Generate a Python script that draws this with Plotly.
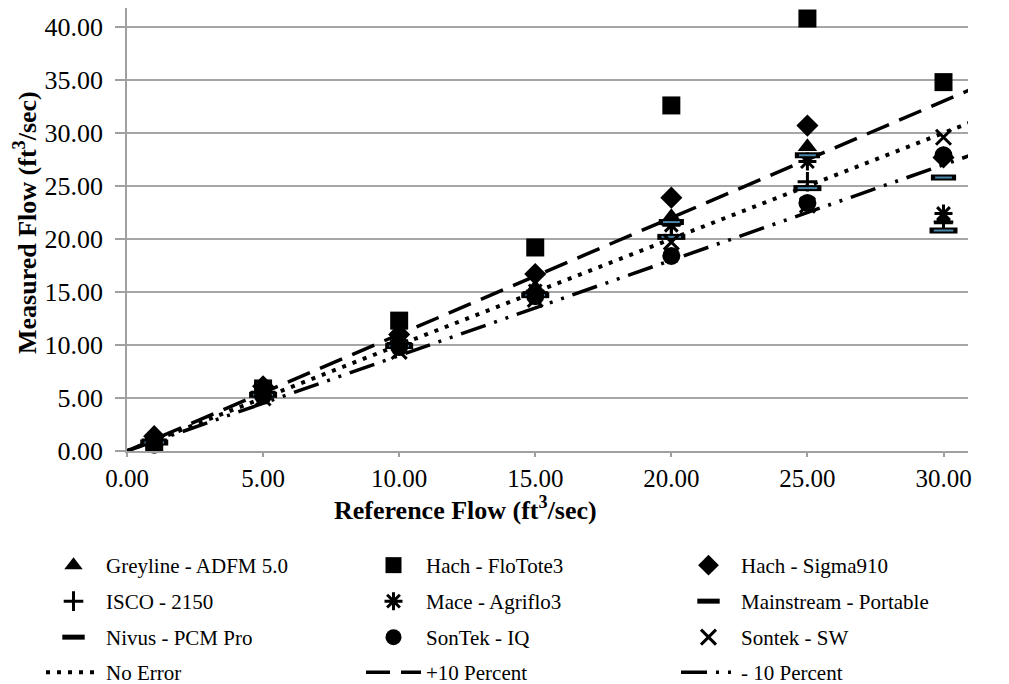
import plotly.graph_objects as go

# ---------------- data ----------------
ref_flow = [1, 5, 10, 15, 20, 25, 30]

greyline = [1.2, 5.7, 10.6, 15.4, 22.1, 28.7, 21.8]
flotote3 = [0.7, 5.9, 12.3, 19.2, 32.6, 40.8, 34.8]
sigma910 = [1.4, 6.1, 11.0, 16.7, 23.9, 30.7, 27.7]
isco2150 = [1.0, 5.5, 10.2, 15.0, 21.4, 25.4, 21.6]
agriflo3 = [1.1, 5.6, 10.4, 15.1, 21.3, 27.3, 22.4]
mainstream = [0.9, 5.4, 10.0, 14.8, 21.6, 27.9, 25.8]
nivus = [0.8, 5.3, 9.9, 14.7, 20.2, 24.8, 20.8]
sontek_iq = [0.6, 5.2, 9.8, 14.6, 18.4, 23.4, 27.9]
sontek_sw = [0.8, 5.0, 9.4, 14.3, 19.7, 23.2, 29.6]

line_x = [0, 31]
no_error_y = [0, 31]
plus10_y = [0, 34.1]
minus10_y = [0, 27.9]

x_ticks = [0, 5, 10, 15, 20, 25, 30]
y_ticks = [0, 5, 10, 15, 20, 25, 30, 35, 40]

x_title = "<b>Reference Flow (ft<sup>3</sup>/sec)</b>"
y_title = "<b>Measured Flow (ft<sup>3</sup>/sec)</b>"

FONT = "'Liberation Serif', 'Times New Roman', Times, serif"
W, H = 1009, 684
OFF = 8  # page body margin offset of the rendered figure

fig = go.Figure()

# reference lines
fig.add_trace(go.Scatter(x=line_x, y=no_error_y, mode="lines", name="No Error",
                         line=dict(color="black", width=4, dash="4px,7px"), legend="legend10"))
fig.add_trace(go.Scatter(x=line_x, y=plus10_y, mode="lines", name="+10 Percent",
                         line=dict(color="black", width=3.5, dash="24px,11px"), legend="legend11"))
fig.add_trace(go.Scatter(x=line_x, y=minus10_y, mode="lines", name="- 10 Percent",
                         line=dict(color="black", width=3.5, dash="26px,9px,3px,9px,3px,9px"),
                         legend="legend12"))

series = [
    ("Greyline - ADFM 5.0", greyline, dict(symbol="triangle-up", size=17, color="black"), "legend"),
    ("Hach - FloTote3", flotote3, dict(symbol="square", size=18, color="black"), "legend2"),
    ("Hach - Sigma910", sigma910, dict(symbol="diamond", size=17, color="black"), "legend3"),
    ("ISCO - 2150", isco2150, dict(symbol="cross-thin", size=14, color="black",
                                   line=dict(color="black", width=3)), "legend4"),
    ("Mace - Agriflo3", agriflo3, dict(symbol="asterisk", size=15, color="black",
                                       line=dict(color="black", width=3)), "legend5"),
    ("Mainstream - Portable", mainstream, dict(symbol="line-ew", size=18, color="black",
                                               line=dict(color="black", width=6)), "legend6"),
    ("Nivus - PCM Pro", nivus, dict(symbol="line-ew", size=20, color="black",
                                    line=dict(color="black", width=6)), "legend7"),
    ("SonTek - IQ", sontek_iq, dict(symbol="circle", size=18, color="black"), "legend8"),
    ("Sontek - SW", sontek_sw, dict(symbol="x-thin", size=15, color="black",
                                    line=dict(color="black", width=3)), "legend9"),
]

for name, ys, mk, lg in series:
    fig.add_trace(go.Scatter(x=ref_flow, y=ys, mode="markers", name=name, marker=mk,
                             legend=lg, cliponaxis=False))
    if mk["symbol"] == "line-ew":
        fig.add_trace(go.Scatter(x=ref_flow, y=ys, mode="markers", showlegend=False,
                                 hoverinfo="skip", cliponaxis=False,
                                 marker=dict(symbol="line-ew", size=mk["size"] - 6,
                                             line=dict(color="#4a86a8", width=2))))

# plot area in figure pixels (screen pixels minus body offset)
PL = 127 - OFF
PR = 968 - OFF
PT = 0
PB = 451 - OFF
PW, PH = PR - PL, PB - PT

# legend placement (12 single-entry legends in a 3x4 grid, container coords)
col_text_px = [106, 426, 741]
row_px = [566, 602, 638, 673]
ITEMW = 55
TEXT_OFF = ITEMW + 10
ROW_OFF = 21
legend_names = ["legend", "legend2", "legend3", "legend4", "legend5", "legend6",
                "legend7", "legend8", "legend9", "legend10", "legend11", "legend12"]
legend_layout = {}
for i, ln in enumerate(legend_names):
    r, c = divmod(i, 3)
    left_px = col_text_px[c] - TEXT_OFF - OFF
    top_px = row_px[r] - ROW_OFF - OFF
    legend_layout[ln] = dict(
        xref="container", yref="container",
        x=left_px / W, xanchor="left",
        y=1 - top_px / H, yanchor="top",
        orientation="h", bgcolor="rgba(0,0,0,0)", borderwidth=0,
        font=dict(family=FONT, size=21, color="black"),
        itemwidth=ITEMW, itemsizing="trace",
    )

fig.update_layout(
    width=W, height=H,
    margin=dict(l=PL, r=W - PR, t=PT, b=H - PB, autoexpand=False),
    paper_bgcolor="white", plot_bgcolor="white",
    font=dict(family=FONT, size=26, color="black"),
    showlegend=True,
    **legend_layout,
)

# axis titles placed as annotations for exact positioning
fig.add_annotation(text=x_title, xref="paper", yref="paper",
                   x=(465 - OFF - PL) / PW, y=(PB - (508 - OFF)) / PH,
                   xanchor="center", yanchor="middle", showarrow=False,
                   font=dict(family=FONT, size=26, color="black"))
fig.add_annotation(text=y_title, xref="paper", yref="paper", textangle=-90,
                   x=(25 - OFF - PL) / PW, y=(PB - (223 - OFF)) / PH,
                   xanchor="center", yanchor="middle", showarrow=False,
                   font=dict(family=FONT, size=26, color="black"))

fig.update_xaxes(
    range=[0, 30.9], tickvals=x_ticks, tickformat=".2f",
    showgrid=False, zeroline=False,
    showline=True, linecolor="#a0a0a0", linewidth=1.5,
    ticks="outside", ticklen=4, tickcolor="#a0a0a0", tickwidth=1.5,
    tickfont=dict(family=FONT, size=25, color="black"),
)
fig.update_yaxes(
    range=[0, PH / 10.6], tickvals=y_ticks, tickformat=".2f",
    showgrid=True, gridcolor="#a6a6a6", gridwidth=1.5, zeroline=False,
    showline=True, linecolor="#a0a0a0", linewidth=1.5,
    ticks="outside", ticklen=10, tickcolor="#a0a0a0", tickwidth=1.5,
    ticklabelstandoff=7,
    tickfont=dict(family=FONT, size=26, color="black"),
)

fig.write_html("out.html")
